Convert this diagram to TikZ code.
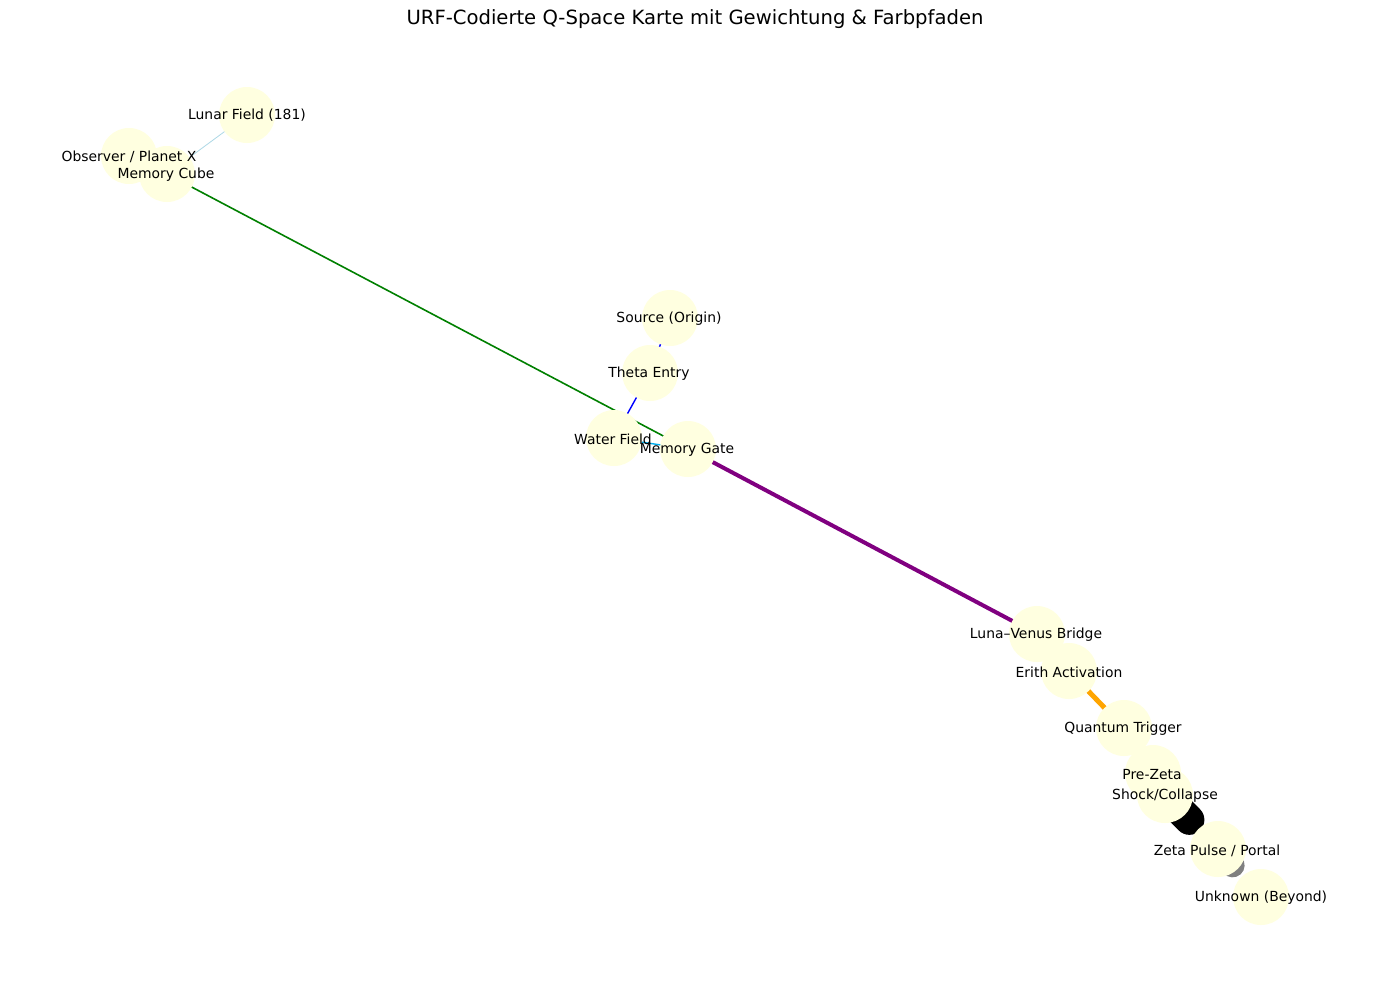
\documentclass[tikz,border=0pt]{standalone}
\usepackage{fontspec}
\setmainfont{DejaVu Sans}
\usetikzlibrary{calc}
\definecolor{nodefill}{HTML}{FFFFE0}
\definecolor{lblue}{HTML}{ADD8E6}
\definecolor{mplgreen}{HTML}{008000}
\definecolor{mplpurple}{HTML}{800080}
\definecolor{mplorange}{HTML}{FFA500}
\definecolor{mplgray}{HTML}{808080}
\begin{document}
\begin{tikzpicture}[x=1pt,y=-1pt,
  qnode/.style={circle,fill=nodefill,minimum size=56pt,inner sep=0pt},
  qlabel/.style={font=\fontsize{13.9}{14}\selectfont,inner sep=0pt,text=black}]
\useasboundingbox (0,0) rectangle (1389,989);
\fill[white] (0,0) rectangle (1389,989);
% coordinates of node centres
\coordinate (lunar) at (247,115);
\coordinate (obs) at (129,156);
\coordinate (cube) at (167,174);
\coordinate (src) at (670,318);
\coordinate (theta) at (650,373);
\coordinate (water) at (614,438);
\coordinate (gate) at (688,449);
\coordinate (luna) at (1037,634);
\coordinate (erith) at (1069,671);
\coordinate (quant) at (1124,728);
\coordinate (prez) at (1153,773);
\coordinate (shock) at (1165,795);
\coordinate (zeta) at (1218,849);
\coordinate (unk) at (1261,897);
\coordinate (shockend) at ($(shock)!0.46!(zeta)$);
\coordinate (zetaend) at ($(zeta)!0.34!(unk)$);
% edges
\draw[lblue,line width=0.8pt] (lunar) -- (cube);
\draw[mplgreen,line width=1.6pt] (cube) -- (gate);
\draw[blue,line width=1.4pt] (src) -- (theta);
\draw[blue,line width=1.4pt] (theta) -- (water);
\draw[cyan,line width=1.4pt] (water) -- (gate);
\draw[mplpurple,line width=4pt] (gate) -- (luna);
\draw[black,line width=2pt] (luna) -- (erith);
\draw[mplorange,line width=5pt] (erith) -- (quant);
\draw[black,line width=2pt] (quant) -- (prez);
\draw[black,line width=2pt] (prez) -- (shock);
\draw[black,line width=30pt,line cap=round] (shock) -- (shockend);
\draw[mplgray,line width=24pt,line cap=round] (zeta) -- (zetaend);
% nodes
\node[qnode] (nlunar) at (lunar) {};
\node[qnode] (nobs) at (obs) {};
\node[qnode] (ncube) at (cube) {};
\node[qnode] (nsrc) at (src) {};
\node[qnode] (ntheta) at (theta) {};
\node[qnode] (nwater) at (water) {};
\node[qnode] (ngate) at (gate) {};
\node[qnode] (nluna) at (luna) {};
\node[qnode] (nerith) at (erith) {};
\node[qnode] (nquant) at (quant) {};
\node[qnode] (nprez) at (prez) {};
\node[qnode] (nshock) at (shock) {};
\node[qnode] (nzeta) at (zeta) {};
\node[qnode] (nunk) at (unk) {};
% labels
\node[qlabel] (tlunar) at (247,115) {Lunar Field (181)};
\node[qlabel] (tobs) at (129,157) {Observer / Planet X};
\node[qlabel] (tcube) at (166,175) {Memory Cube};
\node[qlabel] (tsrc) at (669,319) {Source (Origin)};
\node[qlabel] (ttheta) at (649,374) {Theta Entry};
\node[qlabel] (twater) at (613,439) {Water Field};
\node[qlabel] (tgate) at (687,450) {Memory Gate};
\node[qlabel] (tluna) at (1036,635) {Luna–Venus Bridge};
\node[qlabel] (terith) at (1069,672) {Erith Activation};
\node[qlabel] (tquant) at (1123,729) {Quantum Trigger};
\node[qlabel] (tprez) at (1152,775) {Pre-Zeta};
\node[qlabel] (tshock) at (1165,796) {Shock/Collapse};
\node[qlabel] (tzeta) at (1217,851) {Zeta Pulse / Portal};
\node[qlabel] (tunk) at (1261,898) {Unknown (Beyond)};
% title
\node[font=\fontsize{19.6}{21}\selectfont,inner sep=0pt] (title) at (695,19) {URF-Codierte Q-Space Karte mit Gewichtung \& Farbpfaden};
\end{tikzpicture}
\end{document}
